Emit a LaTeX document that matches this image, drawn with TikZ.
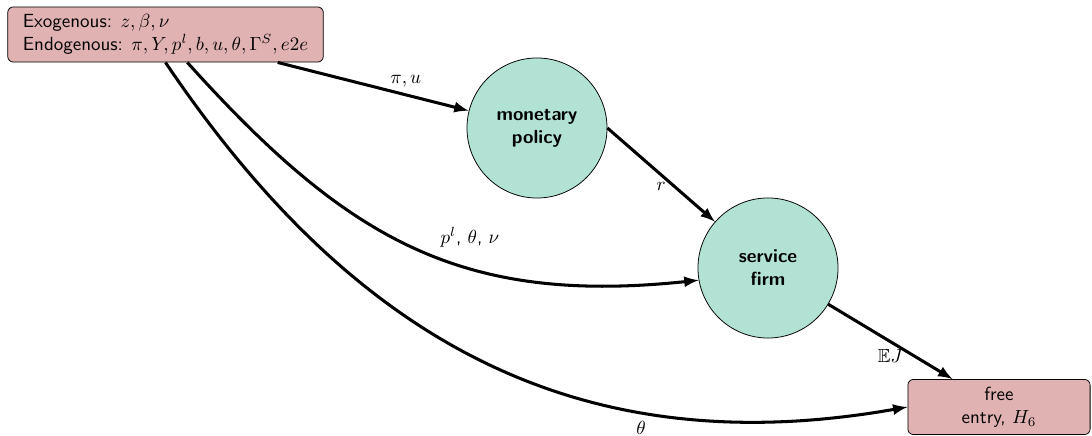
\documentclass[tikz,border=0pt]{standalone}
\usepackage{amssymb}
\usetikzlibrary{arrows}

\definecolor{boxpink}{RGB}{224,178,178}
\definecolor{circmint}{RGB}{178,226,212}

\begin{document}
\begin{tikzpicture}[->,>=latex,ultra thick,x=0.0185cm,y=0.0185cm,auto,
  every node/.style={font=\sffamily},
  varbox/.style={draw,thin,rounded corners=3pt,fill=boxpink,minimum height=1.02cm},
  agent/.style={circle,draw,thin,fill=circmint,minimum size=2.59cm,align=center,font=\sffamily\bfseries}]
  \useasboundingbox (0,0) rectangle (1092,436);
  \node[varbox,align=left,inner xsep=0.28cm] (exo) at (165.5,401.5)
    {Exogenous: $z,\beta,\nu$\\Endogenous: $\pi,Y,p^l,b,u,\theta,\Gamma^S,e2e$};
  \node[agent] (mp) at (537,308) {monetary\\policy};
  \node[agent] (sf) at (768,168) {service\\firm};
  \node[varbox,align=center,minimum width=3.37cm] (fe) at (999,29) {free\\entry, $H_6$};
  \path (exo.-14) edge node[above,pos=0.67] {$\pi,u$} (mp)
  (mp.east) edge node[below] {$r$} (sf)
  (exo.-52) edge [out=-48,in=186,looseness=1.1] node[pos=0.54] {$p^l$, $\theta$, $\nu$} (sf.190)
  (exo.south) edge [out=-56,in=190,looseness=1.05] node[swap,pos=0.72] {$\theta$} (fe.west)
  (sf) edge node[below] {$\mathbb{E}J$} (fe);
\end{tikzpicture}
\end{document}
